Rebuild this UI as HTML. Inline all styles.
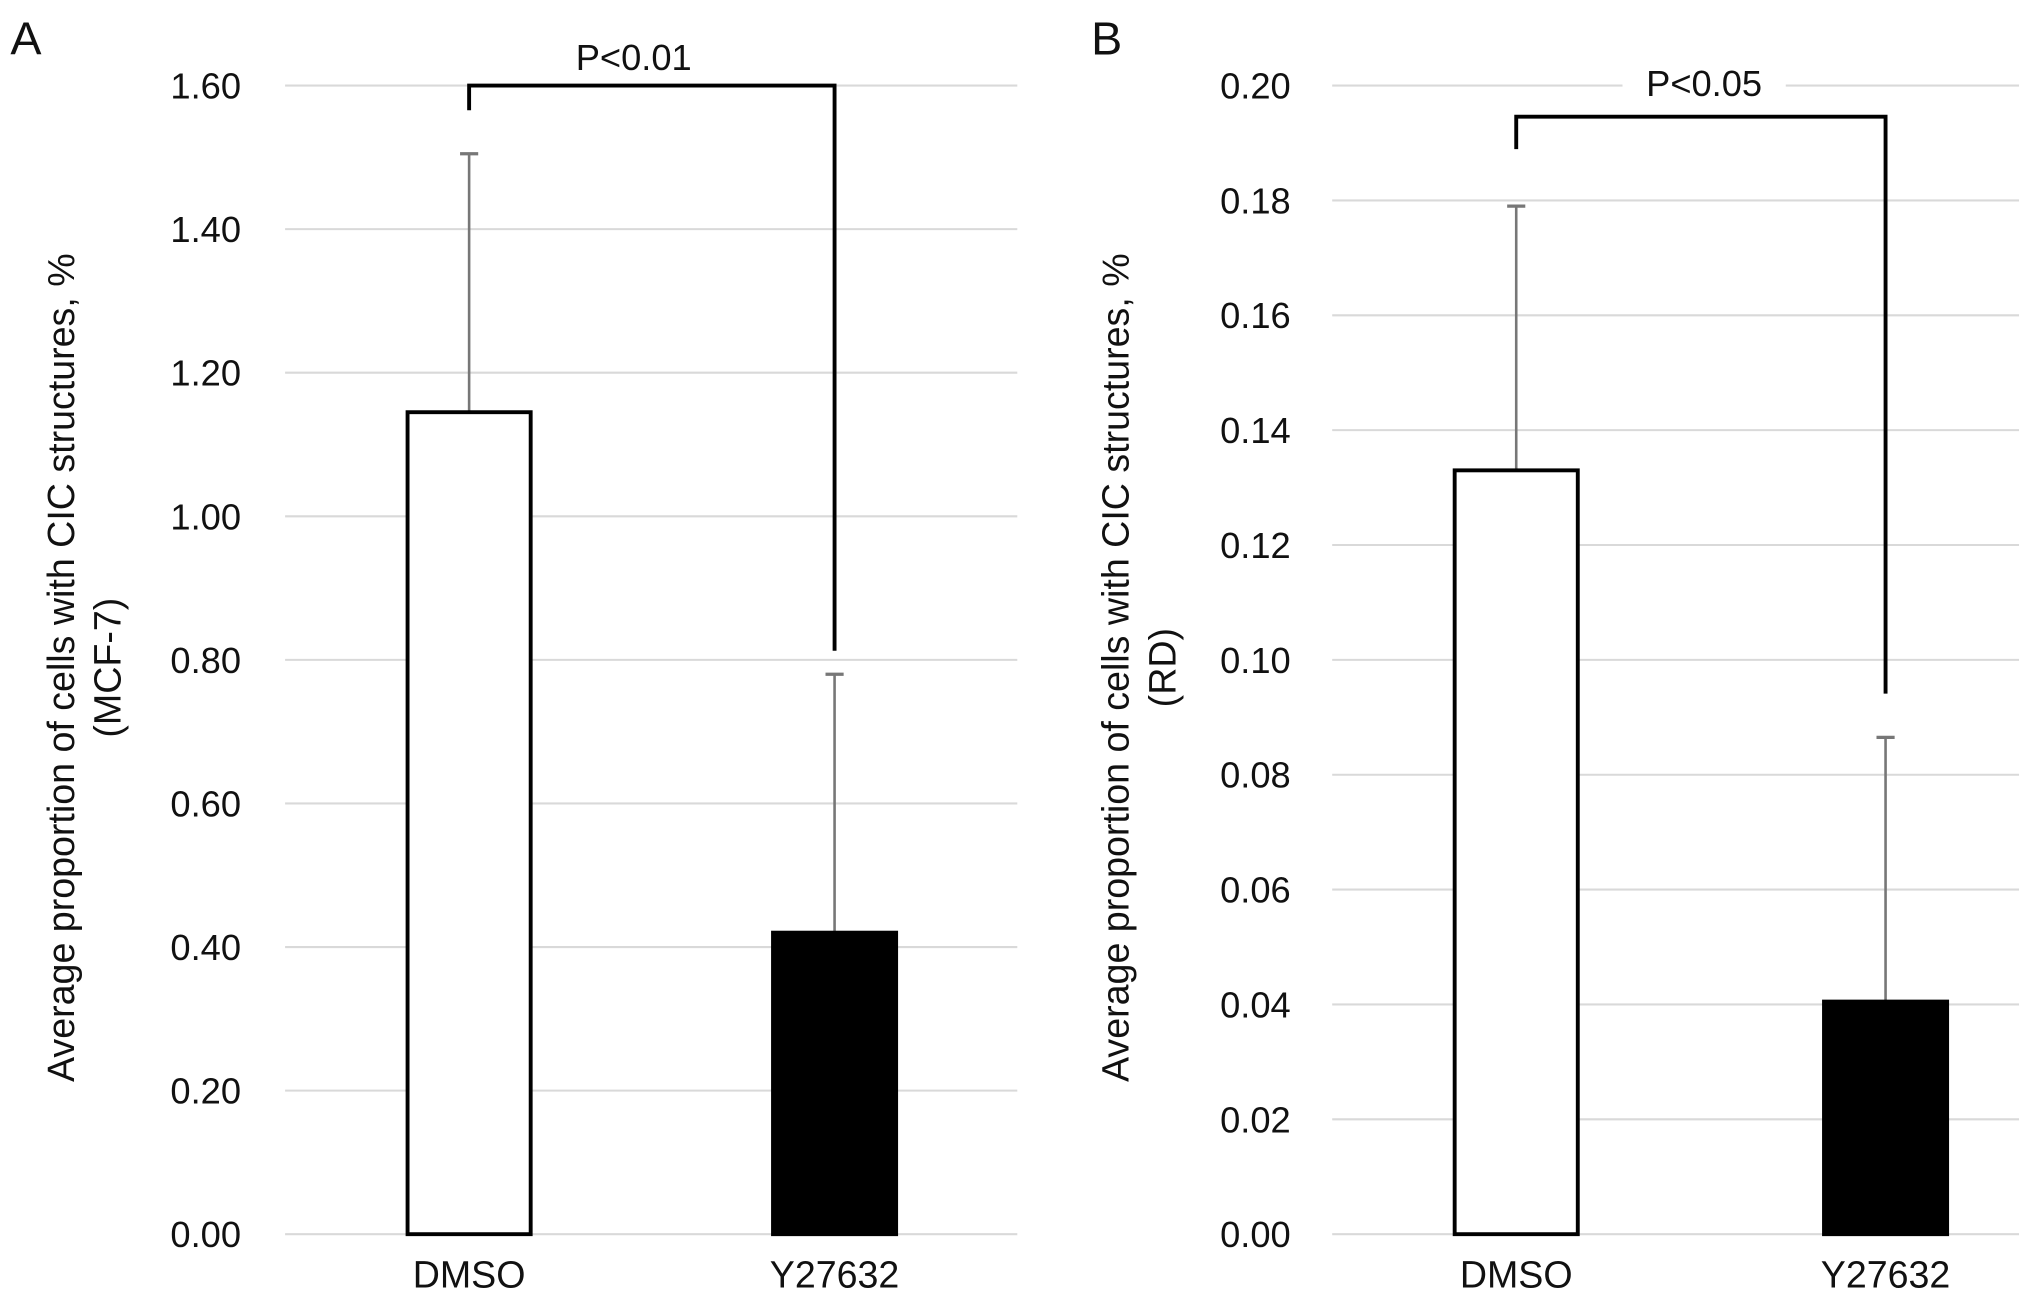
<!DOCTYPE html>
<html><head><meta charset="utf-8"><style>html,body{margin:0;padding:0;background:#fff}svg{display:block}text{font-family:"Liberation Sans",Arial,sans-serif;fill:#111}</style></head>
<body>
<svg id="chart" width="2032" height="1299" viewBox="0 0 1568 1002" preserveAspectRatio="none" xmlns="http://www.w3.org/2000/svg"></svg>
<script>
const categories = ["DMSO", "Y27632"];
const valuesA = [1.145, 0.42];
const errorsA = [0.36, 0.36];
const ticksA = [0, 0.2, 0.4, 0.6, 0.8, 1.0, 1.2, 1.4, 1.6];
const tickLabelsA = ["0.00","0.20","0.40","0.60","0.80","1.00","1.20","1.40","1.60"];
const valuesB = [0.133, 0.0405];
const errorsB = [0.046, 0.046];
const ticksB = [0, 0.02, 0.04, 0.06, 0.08, 0.10, 0.12, 0.14, 0.16, 0.18, 0.20];
const tickLabelsB = ["0.00","0.02","0.04","0.06","0.08","0.10","0.12","0.14","0.16","0.18","0.20"];
const pA = "P<0.01", pB = "P<0.05";

const NS = "http://www.w3.org/2000/svg";
const svg = document.getElementById("chart");
function mk(tag, attrs, parent, txt) {
  const e = document.createElementNS(NS, tag);
  for (const k in attrs) e.setAttribute(k, attrs[k]);
  if (txt !== undefined) e.textContent = txt;
  (parent || svg).appendChild(e);
  return e;
}
function panel(cfg) {
  const g = mk("g", {});
  
  
  const y = v => cfg.y0 - (v / cfg.max) * (cfg.y0 - cfg.yTop);
  cfg.ticks.forEach((t, i) => {
    const gl = mk("line", {x1: cfg.gx0, x2: cfg.gx1, y1: y(t), y2: y(t), stroke: "#d9d9d9", "stroke-width": 1.6}, g);
    
    
    const tl = mk("text", {x: cfg.tickX, y: y(t) + 10, "text-anchor": "end", "font-size": 28}, g, cfg.tickLabels[i]);
    
    
  });
  const barW = 95;
  categories.forEach((c, i) => {
    const cx = cfg.cx[i];
    const v = cfg.values[i], e = cfg.errors[i];
    const el = mk("line", {x1: cx, x2: cx, y1: y(v), y2: y(v + e), stroke: "#777", "stroke-width": 2}, g);
    
    
    const ec = mk("line", {x1: cx - 7, x2: cx + 7, y1: y(v + e), y2: y(v + e), stroke: "#777", "stroke-width": 2.5}, g);
    
    
    const b = mk("rect", {x: cx - barW / 2, y: y(v), width: barW, height: y(0) - y(v), fill: i === 0 ? "#fff" : "#000", stroke: "#000", "stroke-width": 3}, g);
    
    
    const xl = mk("text", {x: cx, y: cfg.y0 + 41, "text-anchor": "middle", "font-size": 29}, g, c);
    
    
  });
  const by = cfg.brY;
  const br = mk("path", {d: `M${cfg.cx[0]},${cfg.brL} V${by} H${cfg.cx[1]} V${cfg.brR}`, fill: "none", stroke: "#000", "stroke-width": 3}, g);
  
  
  const bgw = cfg.ptext.length * 17 + 24;
  mk("rect", {x: cfg.pX - bgw / 2, y: cfg.pY - 26, width: bgw, height: 32, fill: "#fff"}, g);
  const pt = mk("text", {x: cfg.pX, y: cfg.pY, "text-anchor": "middle", "font-size": 28}, g, cfg.ptext);
  
  
  const yt = mk("text", {transform: `translate(${cfg.axX},${cfg.axY}) rotate(-90)`, "text-anchor": "middle", "font-size": 29}, g);
  
  
  mk("tspan", {x: 0, dy: 0}, yt, "Average proportion of cells with CIC structures, %");
  mk("tspan", {x: 0, dy: 36}, yt, cfg.sub);
  const pl = mk("text", {x: cfg.letterX, y: 42, "font-size": 36}, g, cfg.letter);
  
  
}
panel({name: "panel-a", values: valuesA, errors: errorsA, ticks: ticksA, tickLabels: tickLabelsA, max: 1.6,
  y0: 952, yTop: 66, gx0: 220, gx1: 785, tickX: 186, cx: [362, 644], brY: 66, brL: 85, brR: 502,
  ptext: pA, pX: 489, pY: 54, axX: 57, axY: 515, sub: "(MCF-7)", letter: "A", letterX: 8});
panel({name: "panel-b", values: valuesB, errors: errorsB, ticks: ticksB, tickLabels: tickLabelsB, max: 0.2,
  y0: 952, yTop: 66, gx0: 1028, gx1: 1558, tickX: 996, cx: [1170, 1455], brY: 90, brL: 115, brR: 535,
  ptext: pB, pX: 1315, pY: 74, axX: 871, axY: 515, sub: "(RD)", letter: "B", letterX: 842});
</script>
</body></html>
